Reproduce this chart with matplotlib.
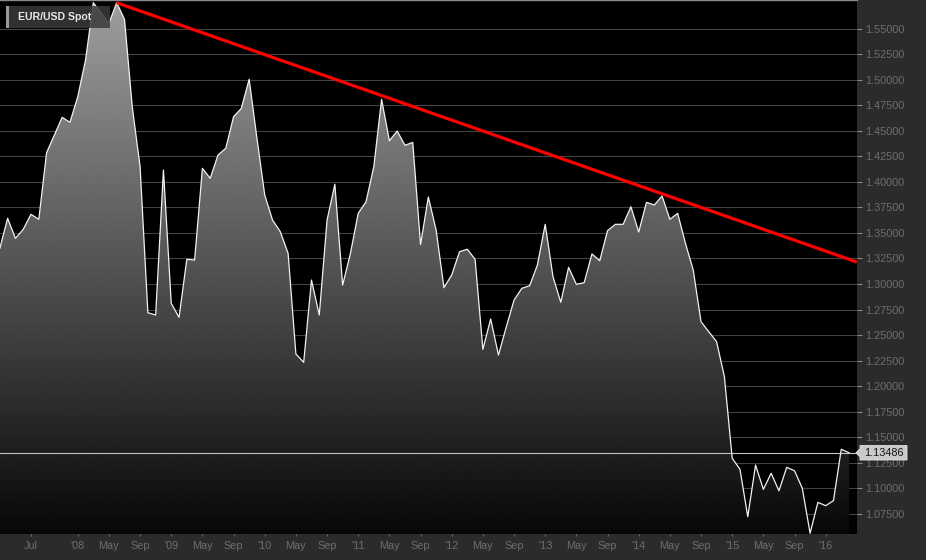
import numpy as np
import pandas as pd
import matplotlib
matplotlib.use("Agg")
import matplotlib.pyplot as plt
from matplotlib.patches import Polygon, Rectangle

# ---------------- data ----------------
start_month = "2007-03"
eurusd = [
    1.3349, 1.3643, 1.3447, 1.3535, 1.3682, 1.3633, 1.4285, 1.4458, 1.4631, 1.4582,
    1.4833, 1.5192, 1.5752, 1.5652, 1.5551, 1.5752, 1.5590, 1.4732, 1.4148, 1.2719,
    1.2697, 1.4115, 1.2811, 1.2674, 1.3242, 1.3235, 1.4132, 1.4034, 1.4262, 1.4328,
    1.4637, 1.4719, 1.5003, 1.4426, 1.3871, 1.3626, 1.3512, 1.3300, 1.2315, 1.2234,
    1.3039, 1.2697, 1.3626, 1.3976, 1.2990, 1.3300, 1.3692, 1.3805, 1.4148, 1.4807,
    1.4402, 1.4497, 1.4357, 1.4386, 1.3386, 1.3851, 1.3528, 1.2964, 1.3088, 1.3316,
    1.3340, 1.3242, 1.2361, 1.2658, 1.2305, 1.2579, 1.2843, 1.2958, 1.2983, 1.3186,
    1.3584, 1.3071, 1.2821, 1.3163, 1.2997, 1.3013, 1.3294, 1.3228, 1.3522, 1.3584,
    1.3584, 1.3756, 1.3509, 1.3799, 1.3773, 1.3861, 1.3633, 1.3692, 1.3398, 1.3137,
    1.2631, 1.2533, 1.2435, 1.2093, 1.1295, 1.1187, 1.0723, 1.1229, 1.0991, 1.1148,
    1.0977, 1.1206, 1.1173, 1.1001, 1.0561, 1.0864, 1.0831, 1.0880, 1.1383, 1.13486,
]
series_name = "EUR/USD Spot"
last_label = "1.13486"

trend_months = ["2008-06", "2016-05"]
trend_values = [1.5752, 1.3215]

tick_months = ["2007-07", "2008-01", "2008-05", "2008-09", "2009-01", "2009-05", "2009-09",
               "2010-01", "2010-05", "2010-09", "2011-01", "2011-05", "2011-09", "2012-01",
               "2012-05", "2012-09", "2013-01", "2013-05", "2013-09", "2014-01", "2014-05",
               "2014-09", "2015-01", "2015-05", "2015-09", "2016-01"]
tick_labels = ["Jul", "'08", "May", "Sep", "'09", "May", "Sep", "'10", "May", "Sep", "'11",
               "May", "Sep", "'12", "May", "Sep", "'13", "May", "Sep", "'14", "May", "Sep",
               "'15", "May", "Sep", "'16"]
y_ticks = [1.075, 1.100, 1.125, 1.150, 1.175, 1.200, 1.225, 1.250, 1.275, 1.300, 1.325,
           1.350, 1.375, 1.400, 1.425, 1.450, 1.475, 1.500, 1.525, 1.550]


def month_num(p):
    p = pd.Period(p, freq="M")
    return (p.year - 2007) * 12 + p.month - 1


periods = pd.period_range(start_month, periods=len(eurusd), freq="M")
x = np.array([month_num(p) for p in periods], dtype=float)
y = np.array(eurusd)
xt = [month_num(m) for m in tick_months]
year_ticks = [p for p, l in zip(xt, tick_labels) if l.startswith("'")]

# ---------------- figure ----------------
plt.rcParams["font.family"] = ["Liberation Sans", "DejaVu Sans"]
W, H = 926, 560
fig = plt.figure(figsize=(W / 100, H / 100), dpi=100, facecolor="#2b2b2b")
ax = fig.add_axes([0, 26 / H, 857 / W, 534 / H])
ax.set_facecolor("#000000")

ymin, ymax = 1.0554, 1.5779
xmin, xmax = 2.02, 112.02
ax.set_xlim(xmin, xmax)
ax.set_ylim(ymin, ymax)

# grid
ax.set_axisbelow(True)
ax.set_yticks(y_ticks)
ax.set_yticklabels([f"{v:.5f}" for v in y_ticks])
ax.set_xticks(xt)
ax.set_xticklabels(tick_labels)
ax.set_xticks(year_ticks, minor=True)
ax.yaxis.grid(True, color="#424242", lw=0.8)
ax.xaxis.grid(True, which="minor", color="#424242", lw=0.8)
ax.xaxis.grid(False, which="major")

ax.yaxis.tick_right()
ax.tick_params(axis="y", which="major", colors="#8a8a8a", labelcolor="#6e6e6e",
               length=3.6, width=0.8, pad=2.2, labelsize=7.8)
ax.tick_params(axis="x", which="major", colors="#6a6a6a", labelcolor="#6e6e6e",
               length=1.5, width=0.8, pad=3.8, labelsize=7.8)
ax.tick_params(axis="x", which="minor", length=0)

for s in ["left", "right", "bottom"]:
    ax.spines[s].set_visible(False)
ax.spines["top"].set_color("#8a8a8a")
ax.spines["top"].set_linewidth(1.0)

# gradient fill under the line
grad = np.linspace(0.62, 0.03, 256).reshape(-1, 1)
im = ax.imshow(grad, cmap="gray", vmin=0, vmax=1, aspect="auto", origin="upper",
               extent=[x[0], x[-1], ymin, ymax], zorder=1, interpolation="bilinear")
verts = list(zip(x, y)) + [(x[-1], ymin), (x[0], ymin)]
clip = Polygon(verts, closed=True, facecolor="none", edgecolor="none", transform=ax.transData)
ax.add_patch(clip)
im.set_clip_path(clip)
ax.set_xlim(xmin, xmax)
ax.set_ylim(ymin, ymax)

# last value line
ax.axhline(y[-1], color="#c4c4c4", lw=0.8, zorder=3)

# series line
ax.plot(x, y, color="#f2f2f2", lw=0.9, zorder=4)

# trend line
tx = [month_num(m) for m in trend_months]
ax.plot(tx, trend_values, color="#ff0000", lw=2.3, zorder=5, solid_capstyle="butt")

# legend box
fig.patches.append(Rectangle((6 / W, (H - 28.3) / H), 104 / W, 22.3 / H,
                             transform=fig.transFigure, facecolor="#3a3a3a",
                             edgecolor="none", alpha=0.85, zorder=10))
fig.patches.append(Rectangle((6 / W, (H - 28.3) / H), 2.7 / W, 22.3 / H,
                             transform=fig.transFigure, facecolor="#9a9a9a",
                             edgecolor="none", zorder=11))
fig.text(18 / W, (H - 17.2) / H, series_name, color="#e8e8e8", fontsize=7.6,
         fontweight="bold", va="center", ha="left", zorder=12)

# last value label (arrow box)
fig.canvas.draw()
yd = ax.transData.transform((x[-1], y[-1]))[1]
xd = ax.transAxes.transform((1, 0))[0]
h = 7.2
pts = [(xd - 1, yd), (xd + 3, yd + 4), (xd + 3, yd + h), (xd + 50, yd + h),
       (xd + 50, yd - h), (xd + 3, yd - h), (xd + 3, yd - 4)]
pts_f = [(px / W, py / H) for px, py in pts]
fig.patches.append(Polygon(pts_f, closed=True, transform=fig.transFigure,
                           facecolor="#c9c9c9", edgecolor="#e6e6e6", lw=0.6, zorder=10))
fig.text((xd + 27) / W, yd / H, last_label, color="#111111", fontsize=7.8,
         ha="center", va="center", zorder=11)

fig.savefig("out.png", dpi=100, facecolor=fig.get_facecolor())
